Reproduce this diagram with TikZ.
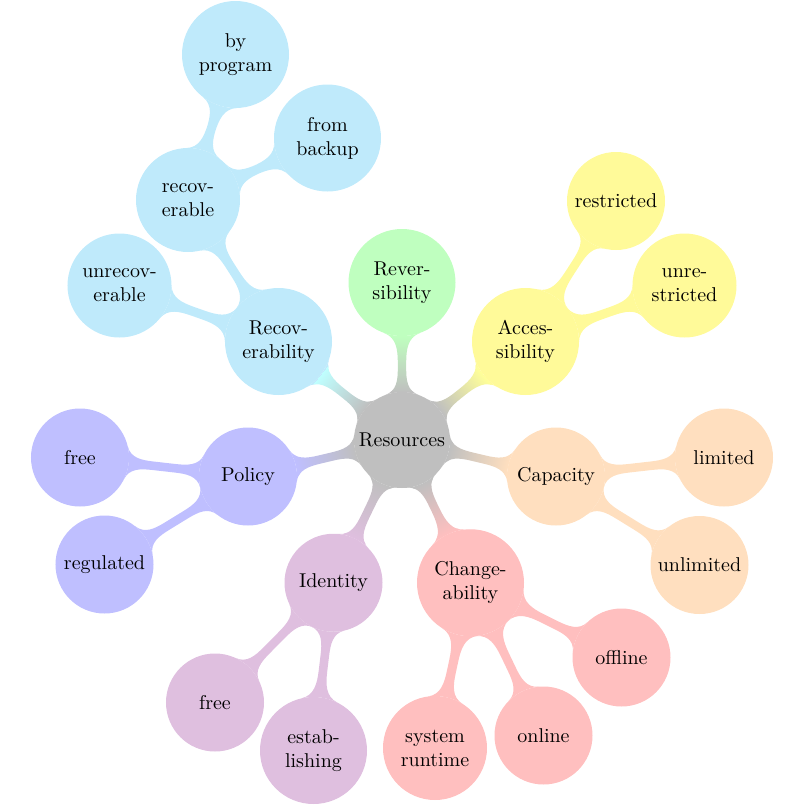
\documentclass[tikz,border=0pt]{standalone}
\usetikzlibrary{mindmap,backgrounds}
\colorlet{cRoot}{black!25}
\colorlet{cRec}{cyan!25}
\colorlet{cRev}{green!25}
\colorlet{cAcc}{yellow!40}
\colorlet{cCap}{orange!25}
\colorlet{cChg}{red!25}
\colorlet{cIdn}{violet!25}
\colorlet{cPol}{blue!25}
\begin{document}
\begin{tikzpicture}[x=0.5pt,y=-0.5pt,
  cpt/.style={circle,inner sep=0pt,text width=46pt,align=center,fill=#1,draw=#1,line width=0.6pt,text=black},
  sz0/.style={minimum size=47.4pt},
  sza/.style={minimum size=48.4pt},
  szb/.style={minimum size=51.4pt},
  szc/.style={minimum size=52.9pt},
  bar1/.style={line width=5.5pt},
  bar2/.style={line width=4.3pt,concept color=#1,fill=#1}
]
\useasboundingbox (0,0) rectangle (805,805);
% root
\node[cpt=cRoot,sz0] (root) at (402,440) {Resources};
% level 1
\node[cpt=cRec,szc] (rec) at (278.5,341.5) {Recov-\\erability};
\node[cpt=cRev,szc] (rev) at (402,282.5) {Rever-\\sibility};
\node[cpt=cAcc,szc] (acc) at (525.5,341.5) {Acces-\\sibility};
\node[cpt=cCap,sza] (cap) at (556,476.5) {Capacity};
\node[cpt=cChg,szc] (chg) at (470.5,582.75) {Change-\\ability};
\node[cpt=cIdn,sza] (idn) at (333.5,582.75) {Identity};
\node[cpt=cPol,sza] (pol) at (248,476.5) {Policy};
% level 2
\node[cpt=cRec,szb] (unrec) at (119.5,285.5) {unrecov-\\erable};
\node[cpt=cRec,szb] (recov) at (188,200) {recov-\\erable};
\node[cpt=cRec,szc] (byprog) at (235.5,54.5) {by\\program};
\node[cpt=cRec,szc] (backup) at (327.5,138) {from\\backup};
\node[cpt=cAcc,sza] (restr) at (616,201) {restricted};
\node[cpt=cAcc,szb] (unrestr) at (684.5,285.5) {unre-\\stricted};
\node[cpt=cCap,sza] (limited) at (724,457.5) {limited};
\node[cpt=cCap,sza] (unlimited) at (699.5,565) {unlimited};
\node[cpt=cChg,sza] (offline) at (621.5,657.5) {offline};
\node[cpt=cChg,sza] (online) at (543.5,735.5) {online};
\node[cpt=cChg,szb] (sysrt) at (435,748) {system\\runtime};
\node[cpt=cIdn,sza] (idfree) at (215,702.5) {free};
\node[cpt=cIdn,szc] (estab) at (313.5,750.5) {estab-\\lishing};
\node[cpt=cPol,sza] (polfree) at (80,457.5) {free};
\node[cpt=cPol,sza] (regul) at (104.5,564.5) {regulated};
\begin{pgfonlayer}{background}
\path[bar1] (root) to[circle connection bar switch color=from (cRoot) to (cRec)] (rec);
\path[bar1] (root) to[circle connection bar switch color=from (cRoot) to (cRev)] (rev);
\path[bar1] (root) to[circle connection bar switch color=from (cRoot) to (cAcc)] (acc);
\path[bar1] (root) to[circle connection bar switch color=from (cRoot) to (cCap)] (cap);
\path[bar1] (root) to[circle connection bar switch color=from (cRoot) to (cChg)] (chg);
\path[bar1] (root) to[circle connection bar switch color=from (cRoot) to (cIdn)] (idn);
\path[bar1] (root) to[circle connection bar switch color=from (cRoot) to (cPol)] (pol);
\path[bar2=cRec] (rec) to[circle connection bar] (unrec);
\path[bar2=cRec] (rec) to[circle connection bar] (recov);
\path[bar2=cRec] (recov) to[circle connection bar] (byprog);
\path[bar2=cRec] (recov) to[circle connection bar] (backup);
\path[bar2=cAcc] (acc) to[circle connection bar] (restr);
\path[bar2=cAcc] (acc) to[circle connection bar] (unrestr);
\path[bar2=cCap] (cap) to[circle connection bar] (limited);
\path[bar2=cCap] (cap) to[circle connection bar] (unlimited);
\path[bar2=cChg] (chg) to[circle connection bar] (offline);
\path[bar2=cChg] (chg) to[circle connection bar] (online);
\path[bar2=cChg] (chg) to[circle connection bar] (sysrt);
\path[bar2=cIdn] (idn) to[circle connection bar] (idfree);
\path[bar2=cIdn] (idn) to[circle connection bar] (estab);
\path[bar2=cPol] (pol) to[circle connection bar] (polfree);
\path[bar2=cPol] (pol) to[circle connection bar] (regul);
\end{pgfonlayer}
\end{tikzpicture}
\end{document}
